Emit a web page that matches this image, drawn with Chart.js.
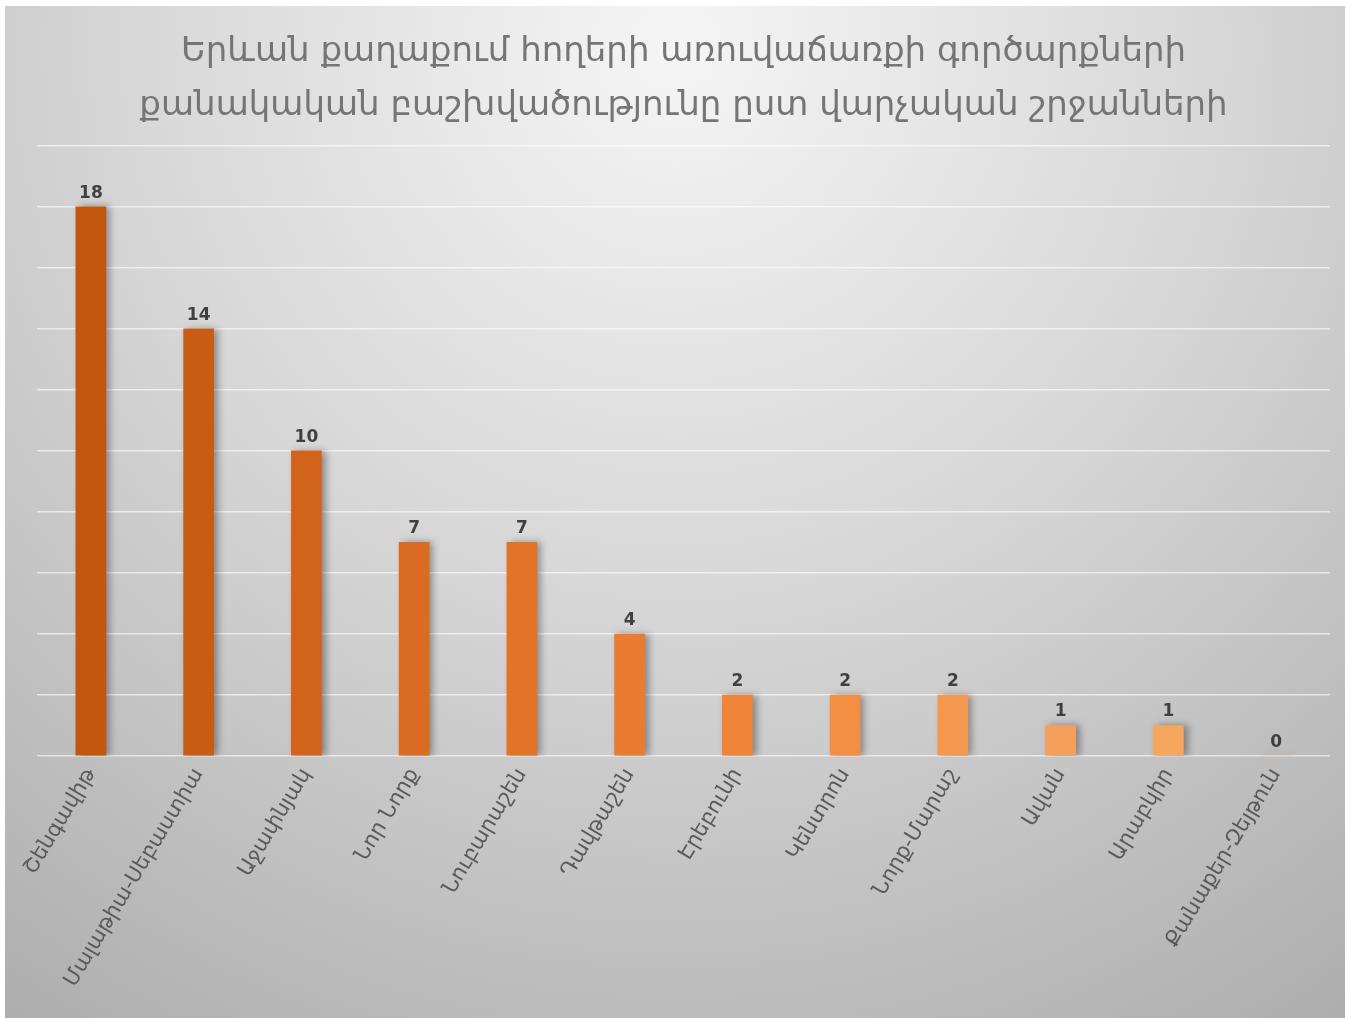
<!DOCTYPE html>
<html>
<head>
<meta charset="utf-8">
<script src="https://cdn.jsdelivr.net/npm/chart.js@4.4.1/dist/chart.umd.min.js"></script>
<style>
  body { margin: 0; background: #fff; }
  #wrap { position: absolute; left: 5px; top: 6px; width: 1340px; height: 1012px; }
</style>
</head>
<body>
<div id="wrap"><canvas id="myChart"></canvas></div>
<script>
const districts = ['Շենգավիթ', 'Մալաթիա-Սեբաստիա', 'Աջափնյակ', 'Նոր Նորք', 'Նուբարաշեն', 'Դավթաշեն',
        'Էրեբունի', 'Կենտրոն', 'Նորք-Մարաշ', 'Ավան', 'Արաբկիր', 'Քանաքեր-Զեյթուն'];
const deals = [18, 14, 10, 7, 7, 4, 2, 2, 2, 1, 1, 0];
const barColors = ['#c2560f', '#c95c14', '#d1631a', '#d96b22', '#e2742a', '#ea7c31',
        '#f08538', '#f38e43', '#f5984f', '#f5a05a', '#f5a65f', '#f6ab66'];
const titleLines = ['Երևան քաղաքում հողերի առուվաճառքի գործարքների',
        'քանակական բաշխվածությունը ըստ վարչական շրջանների'];

const bgPlugin = {
        id: 'bg',
        beforeDraw(chart) {
                const { ctx, width, height } = chart;
                const g = ctx.createRadialGradient(width / 2, 40, 0, width / 2, 40, 1250);
                g.addColorStop(0, '#f5f5f5');
                g.addColorStop(0.45, '#d6d6d6');
                g.addColorStop(1, '#a9a9a9');
                ctx.save();
                ctx.fillStyle = g;
                ctx.fillRect(0, 0, width, height);
                ctx.restore();
        }
};

// soft shadow to the right of the bars
const shadowPlugin = {
        id: 'barShadow',
        beforeDatasetsDraw(chart) {
                const ctx = chart.ctx;
                ctx.save();
                ctx.shadowColor = 'rgba(0,0,0,0.35)';
                ctx.shadowBlur = 7;
                ctx.shadowOffsetX = 4;
                ctx.shadowOffsetY = 0;
        },
        afterDatasetsDraw(chart) {
                chart.ctx.restore();
        }
};

const valueLabels = {
        id: 'valueLabels',
        afterDatasetsDraw(chart) {
                const ctx = chart.ctx;
                const meta = chart.getDatasetMeta(0);
                ctx.save();
                ctx.font = 'bold 17px "DejaVu Sans", sans-serif';
                ctx.fillStyle = '#404040';
                ctx.textAlign = 'center';
                ctx.textBaseline = 'bottom';
                meta.data.forEach((bar, i) => {
                        ctx.fillText(deals[i], bar.x, bar.y - 5);
                });
                ctx.restore();
        }
};

const ctx = document.getElementById('myChart').getContext('2d');
const myChart = new Chart(ctx, {
        type: 'bar',
        data: {
                labels: districts,
                datasets: [{
                        data: deals,
                        backgroundColor: barColors,
                        barThickness: 30
                }]
        },
        options: {
                responsive: true,
                maintainAspectRatio: false,
                animation: false,
                layout: { padding: { left: 32, right: 15, top: 0, bottom: 0 } },
                plugins: {
                        legend: { display: false },
                        tooltip: { enabled: false },
                        title: {
                                display: true,
                                text: titleLines,
                                color: '#757575',
                                font: { family: '"DejaVu Sans", sans-serif', size: 34, weight: 'normal', lineHeight: 1.6 },
                                padding: { top: 19, bottom: 12 }
                        }
                },
                scales: {
                        x: {
                                grid: { display: false },
                                border: { display: false },
                                ticks: {
                                        color: '#5a5a5a',
                                        font: { family: '"DejaVu Sans", sans-serif', size: 21 },
                                        minRotation: 59,
                                        maxRotation: 59,
                                        autoSkip: false,
                                        padding: 0
                                },
                                afterFit(scale) { scale.height = 262; }
                        },
                        y: {
                                min: 0,
                                max: 20,
                                ticks: { display: false, stepSize: 2 },
                                border: { display: false },
                                grid: { color: 'rgba(255,255,255,0.6)', lineWidth: 1.5, drawTicks: false }
                        }
                }
        },
        plugins: [bgPlugin, shadowPlugin, valueLabels]
});
</script>
</body>
</html>
